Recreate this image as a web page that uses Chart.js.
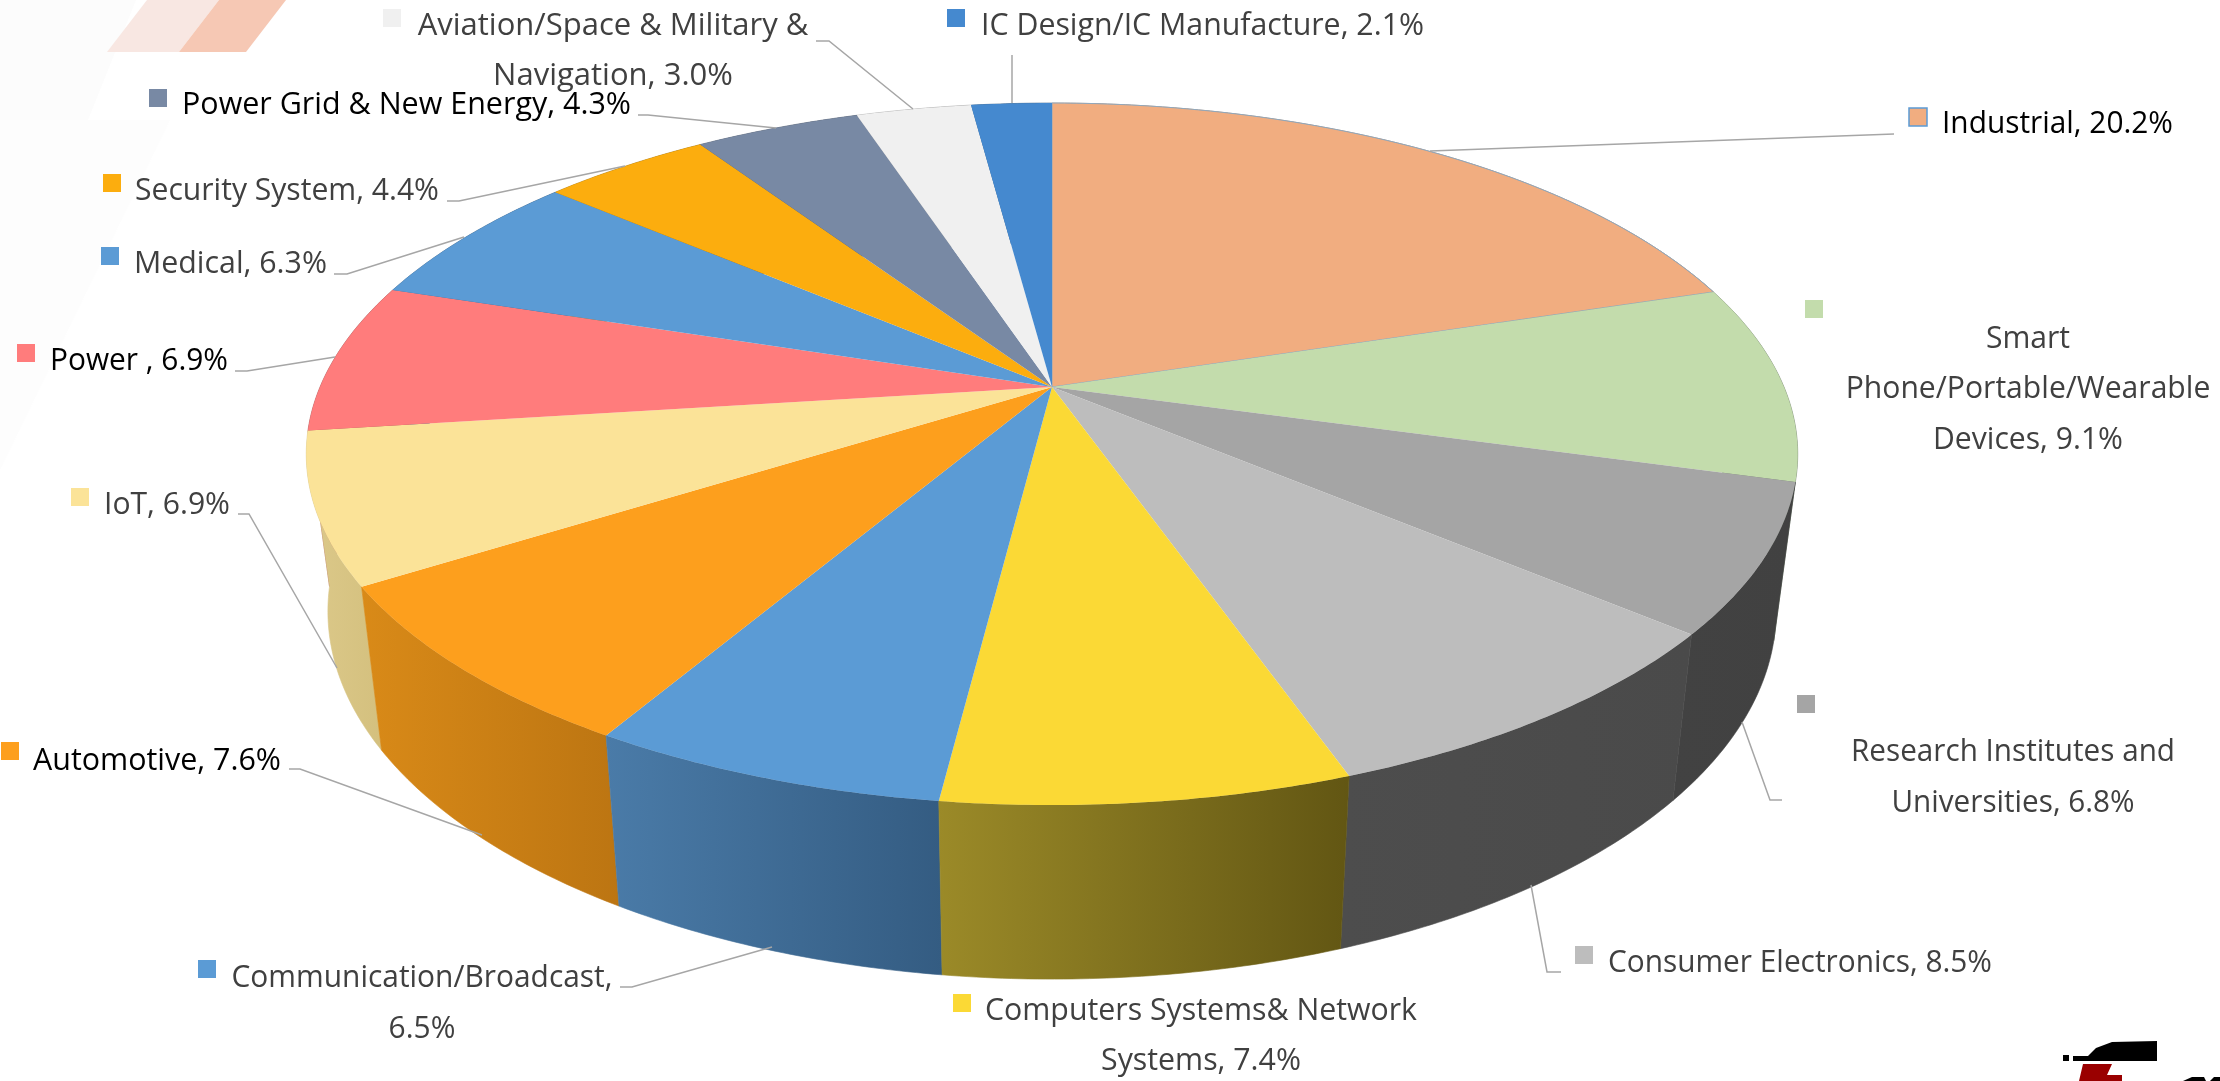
<!DOCTYPE html>
<html>
<head>
<meta charset="utf-8">
<title>Application share</title>
<script src="https://cdn.jsdelivr.net/npm/chart.js@4"></script>
<style>
  html, body { margin: 0; padding: 0; background: #fff; overflow: hidden; }
  canvas { display: block; }
</style>
</head>
<body>
<canvas id="chart" width="2220" height="1081"></canvas>
<script>
// data, clockwise from 12 o'clock
var categories = ['Industrial', 'Smart Phone/Portable/Wearable Devices', 'Research Institutes and Universities',
  'Consumer Electronics', 'Computers Systems& Network Systems', 'Communication/Broadcast', 'Automotive', 'IoT',
  'Power ', 'Medical', 'Security System', 'Power Grid & New Energy', 'Aviation/Space & Military & Navigation',
  'IC Design/IC Manufacture'];
var shares = [20.2, 9.1, 6.8, 8.5, 7.4, 6.5, 7.6, 6.9, 6.9, 6.3, 4.4, 4.3, 3.0, 2.1];

var topColors = ['#f1ad80', '#c3dcac', '#a5a5a5', '#bdbdbd', '#fbd935', '#5b9bd5', '#fd9f1d', '#fbe398',
  '#ff7c7c', '#5b9bd5', '#fcad0e', '#7889a4', '#f0f0f0', '#4589cf'];
var wallLeft = ['#a07050', '#80907a', '#424242', '#4d4d4d', '#9b8a28', '#4a7ba8', '#d98a18', '#dcc98a',
  '#b05858', '#3c6c98', '#b07a08', '#505c70', '#a8a8a8', '#306090'];
var wallRight = ['#906848', '#708068', '#414141', '#4a4a4a', '#625613', '#345c82', '#bc7512', '#d4c07e',
  '#a05050', '#345c82', '#a07006', '#485468', '#989898', '#285480'];

// per label: swatch corner, text x, baselines, align, and where the text wraps
var labelPlace = [
  { sx: 1909, sy: 108, x: 1942, y: [133], w: 231, ink: '#000' },
  { sx: 1805, sy: 300, x: 2028, y: [348, 398, 449], w: 190, center: true, wrap: ['Smart ', 'Wearable '] },
  { sx: 1797, sy: 695, x: 2013, y: [761, 812], w: 324, center: true, wrap: ['and '] },
  { sx: 1575, sy: 946, x: 1608, y: [972], w: 384 },
  { sx: 953, sy: 994, x: 1201, y: [1020, 1070], w: 432, center: true, wrap: ['Network '] },
  { sx: 198, sy: 960, x: 422, y: [987, 1038], w: 381, center: true, wrap: ['Broadcast, '] },
  { sx: 1, sy: 742, x: 33, y: [770], w: 248, ink: '#000' },
  { sx: 71, sy: 488, x: 104, y: [514], w: 126 },
  { sx: 17, sy: 344, x: 50, y: [370], w: 178, ink: '#000' },
  { sx: 101, sy: 247, x: 134, y: [273], w: 193 },
  { sx: 103, sy: 174, x: 135, y: [200], w: 304 },
  { sx: 149, sy: 89, x: 182, y: [114], w: 449, ink: '#000' },
  { sx: 383, sy: 9, x: 613, y: [35, 85], w: 393, center: true, wrap: ['Military & '] },
  { sx: 947, sy: 9, x: 981, y: [35], w: 443 }
];
var leaders = [
  [[1894, 134], [1430, 151]],
  null,
  [[1742, 722], [1770, 800], [1782, 800]],
  [[1531, 885], [1547, 972], [1561, 972]],
  null,
  [[772, 947], [632, 987], [620, 987]],
  [[482, 835], [300, 769], [289, 769]],
  [[337, 668], [249, 514], [238, 514]],
  [[335, 357], [247, 371], [235, 371]],
  [[464, 237], [347, 274], [334, 274]],
  [[625, 166], [459, 201], [447, 201]],
  [[776, 128], [648, 115], [638, 115]],
  [[913, 109], [829, 41], [816, 41]],
  [[1012, 103], [1012, 55]]
];

// perspective of the disc, px
var DISC_A = 732, DISC_B = 338.2, DISC_K = 0.191;
var FLOOR_X = 0.971, FLOOR_Y = 1.048, FLOOR_DROP = 154;

function project(el, a, isFloor)
{
  var u = Math.cos(a), v = Math.sin(a), w = 1 - DISC_K * v;
  var px = DISC_A * u / w, py = DISC_B * v / w;
  if (isFloor) { px *= FLOOR_X; py = py * FLOOR_Y + FLOOR_DROP; }
  return { x: el.x + px, y: el.y + py };
}

function arcPoints(el, from, to, isFloor)
{
  var n = Math.max(2, Math.ceil(Math.abs(to - from) / 0.01)), pts = [];
  for (var i = 0; i <= n; i++) {
    pts.push(project(el, from + (to - from) * i / n, isFloor));
  }
  return pts;
}

function drawWall(ctx, el, i)
{
  var upper = arcPoints(el, el.startAngle, el.endAngle, false);
  var lower = arcPoints(el, el.endAngle, el.startAngle, true);
  var all = upper.concat(lower);
  var minX = Infinity, maxX = -Infinity;
  all.forEach(function (p) { minX = Math.min(minX, p.x); maxX = Math.max(maxX, p.x); });
  var grad = ctx.createLinearGradient(minX, 0, maxX, 0);
  grad.addColorStop(0, wallLeft[i]);
  grad.addColorStop(1, wallRight[i]);
  ctx.beginPath();
  all.forEach(function (p) { ctx.lineTo(p.x, p.y); });
  ctx.closePath();
  ctx.fillStyle = grad;
  ctx.fill();
  ctx.strokeStyle = grad;
  ctx.lineWidth = 0.6;
  ctx.stroke();
}

function drawFace(ctx, el, i)
{
  ctx.beginPath();
  ctx.moveTo(el.x, el.y);
  arcPoints(el, el.startAngle, el.endAngle, false).forEach(function (p) { ctx.lineTo(p.x, p.y); });
  ctx.closePath();
  ctx.fillStyle = el.options.backgroundColor;
  ctx.fill();
  ctx.strokeStyle = el.options.borderColor;
  ctx.lineWidth = el.options.borderWidth;
  ctx.stroke();
}

var disc3d = {
  id: 'disc3d',
  beforeDatasetDraw: function (chart)
  {
    var ctx = chart.ctx, arcs = chart.getDatasetMeta(0).data;
    ctx.save();
    // walls far to near, then the top faces
    var order = arcs.map(function (el, i) { return i; });
    function depth(i) { return Math.sin((arcs[i].startAngle + arcs[i].endAngle) / 2); }
    order.sort(function (a, b) { return depth(a) - depth(b); });
    order.forEach(function (i) { drawWall(ctx, arcs[i], i); });
    arcs.forEach(function (el, i) { drawFace(ctx, el, i); });
    ctx.restore();
    return false;
  }
};

function poly(ctx, color, pts)
{
  ctx.beginPath();
  pts.forEach(function (p, i) { if (i == 0) ctx.moveTo(p[0], p[1]); else ctx.lineTo(p[0], p[1]); });
  ctx.closePath();
  ctx.fillStyle = color;
  ctx.fill();
}

// faint slide art behind the chart
var slideArt = {
  id: 'slideArt',
  beforeDraw: function (chart)
  {
    var ctx = chart.ctx;
    ctx.save();
    ctx.fillStyle = '#fff';
    ctx.fillRect(0, 0, 2220, 1081);
    poly(ctx, '#fcfcfc', [[0, 0], [136, 0], [0, 340]]);
    poly(ctx, '#fdfdfd', [[0, 120], [170, 120], [0, 470]]);
    poly(ctx, '#f8e7e2', [[147, 0], [219, 0], [179, 52], [107, 52]]);
    poly(ctx, '#f6c8b4', [[219, 0], [286, 0], [246, 52], [179, 52]]);
    // corner logo, cut by the frame
    poly(ctx, '#000', [[2073, 1056], [2088, 1056], [2096, 1048], [2112, 1042], [2157, 1041], [2157, 1061], [2073, 1061]]);
    poly(ctx, '#000', [[2063, 1055], [2069, 1055], [2069, 1061], [2063, 1061]]);
    poly(ctx, '#9a0000', [[2083, 1064], [2112, 1064], [2107, 1075], [2122, 1075], [2122, 1081], [2079, 1081]]);
    poly(ctx, '#000', [[2183, 1081], [2192, 1077], [2204, 1077], [2206, 1081]]);
    poly(ctx, '#000', [[2210, 1081], [2214, 1077], [2220, 1077], [2220, 1081]]);
    ctx.restore();
  }
};

var calloutLabels = {
  id: 'calloutLabels',
  afterDraw: function (chart)
  {
    var ctx = chart.ctx;
    ctx.save();
    // leader lines sit under the text
    ctx.strokeStyle = '#a6a6a6';
    ctx.lineWidth = 1.5;
    leaders.forEach(function (pts) {
      if (!pts) return;
      ctx.beginPath();
      pts.forEach(function (p, i) { if (i == 0) ctx.moveTo(p[0], p[1]); else ctx.lineTo(p[0], p[1]); });
      ctx.stroke();
    });
    ctx.font = '31px "Open Sans"';
    ctx.textBaseline = 'alphabetic';
    labelPlace.forEach(function (p, i) {
      ctx.fillStyle = topColors[i];
      ctx.fillRect(p.sx, p.sy, 18, 18);
      if (i == 0) {
        ctx.strokeStyle = '#5b9bd5';
        ctx.lineWidth = 1.5;
        ctx.strokeRect(p.sx, p.sy, 18, 18);
      }
      var text = categories[i] + ', ' + shares[i].toFixed(1) + '%';
      (p.wrap || []).forEach(function (w) { text = text.replace(w, w.trim() + '\n'); });
      var lines = text.split('\n');
      ctx.fillStyle = p.ink || '#404040';
      ctx.textAlign = p.center ? 'center' : 'left';
      // squeeze every line of a label by the same amount, w is the width of its last line or only line
      var ref = lines.length == 3 ? lines[2] : lines[0];
      var fit = Math.min(1, p.w / ctx.measureText(ref).width);
      lines.forEach(function (line, k) {
        ctx.fillText(line, p.x, p.y[k], ctx.measureText(line).width * fit);
      });
    });
    ctx.restore();
  }
};

new Chart(document.getElementById('chart'), {
  type: 'pie',
  data: {
    labels: categories,
    datasets: [{
      data: shares,
      backgroundColor: topColors,
      borderColor: ['#8fa9bf', 'rgba(0,0,0,0)', 'rgba(0,0,0,0)', 'rgba(0,0,0,0)', 'rgba(0,0,0,0)', 'rgba(0,0,0,0)',
        'rgba(0,0,0,0)', 'rgba(0,0,0,0)', 'rgba(0,0,0,0)', 'rgba(0,0,0,0)', 'rgba(0,0,0,0)', 'rgba(0,0,0,0)',
        'rgba(0,0,0,0)', 'rgba(0,0,0,0)'],
      borderWidth: 1
    }]
  },
  options: {
    responsive: false,
    animation: false,
    layout: { padding: { right: 116, bottom: 307 } },
    plugins: { legend: { display: false }, tooltip: { enabled: false } }
  },
  plugins: [slideArt, disc3d, calloutLabels]
});
</script>
</body>
</html>
